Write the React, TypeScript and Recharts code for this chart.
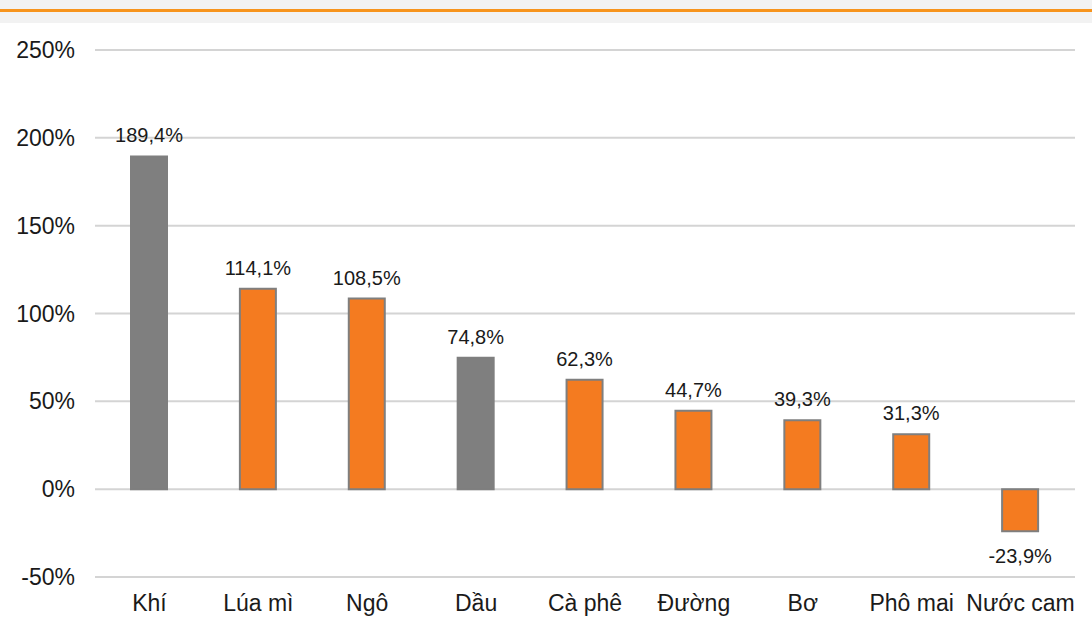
import { BarChart, Bar, XAxis, YAxis, CartesianGrid, Cell, LabelList } from "recharts"

const categories = ["Khí", "Lúa mì", "Ngô", "Dầu", "Cà phê", "Đường", "Bơ", "Phô mai", "Nước cam"]
const changes = [189.4, 114.1, 108.5, 74.8, 62.3, 44.7, 39.3, 31.3, -23.9]
const energyItems = ["Khí", "Dầu"]
const yTicks = [-50, 0, 50, 100, 150, 200, 250]

const data = categories.map((name, i) => ({ name, value: changes[i] }))

const ORANGE = "#f47b20"
const GREY = "#7f7f7f"
const FONT = "'Liberation Sans', Arial, sans-serif"

const fmt = (v: number) => `${v.toFixed(1).replace(".", ",")}%`

function ValueLabel(props: any) {
  const { x, y, width, height, value } = props
  const top = Math.min(y, y + height)
  const bottom = Math.max(y, y + height)
  const cx = x + width / 2
  const ty = value >= 0 ? top - 14 : bottom + 32
  return (
    <text x={cx} y={ty} textAnchor="middle" fontSize={20} fill="#1a1a1a" fontFamily={FONT}>
      {fmt(value)}
    </text>
  )
}

export default function App() {
  return (
    <div style={{ position: "absolute", left: 0, top: 0, width: 1092, height: 626, background: "#fff", fontFamily: FONT }}>
      <div style={{ position: "absolute", left: 0, top: 0, width: 1092, height: 23, background: "#f2f2f2" }} />
      <div style={{ position: "absolute", left: 0, top: 9, width: 1092, height: 3, background: "#f7941d" }} />
      <div style={{ position: "absolute", left: 0, top: 0 }}>
        <BarChart width={1092} height={626} data={data} margin={{ top: 50, right: 17, bottom: 0, left: 0 }}>
          <CartesianGrid vertical={false} stroke="#d4d4d4" strokeWidth={2} />
          <XAxis
            dataKey="name"
            axisLine={false}
            tickLine={false}
            tickSize={0}
            tickMargin={18}
            height={49}
            interval={0}
            tick={{ fontSize: 23, fill: "#1a1a1a", fontFamily: FONT }}
          />
          <YAxis
            domain={[-50, 250]}
            ticks={yTicks}
            axisLine={false}
            tickLine={false}
            tickSize={0}
            tickMargin={20}
            width={95}
            tickFormatter={(v) => `${v}%`}
            tick={{ fontSize: 23, fill: "#1a1a1a", fontFamily: FONT }}
          />
          <Bar dataKey="value" barSize={36} stroke={GREY} strokeWidth={2} isAnimationActive={false}>
            {data.map((d) => (
              <Cell key={d.name} fill={energyItems.includes(d.name) ? GREY : ORANGE} />
            ))}
            <LabelList dataKey="value" content={ValueLabel} />
          </Bar>
        </BarChart>
      </div>
    </div>
  )
}
